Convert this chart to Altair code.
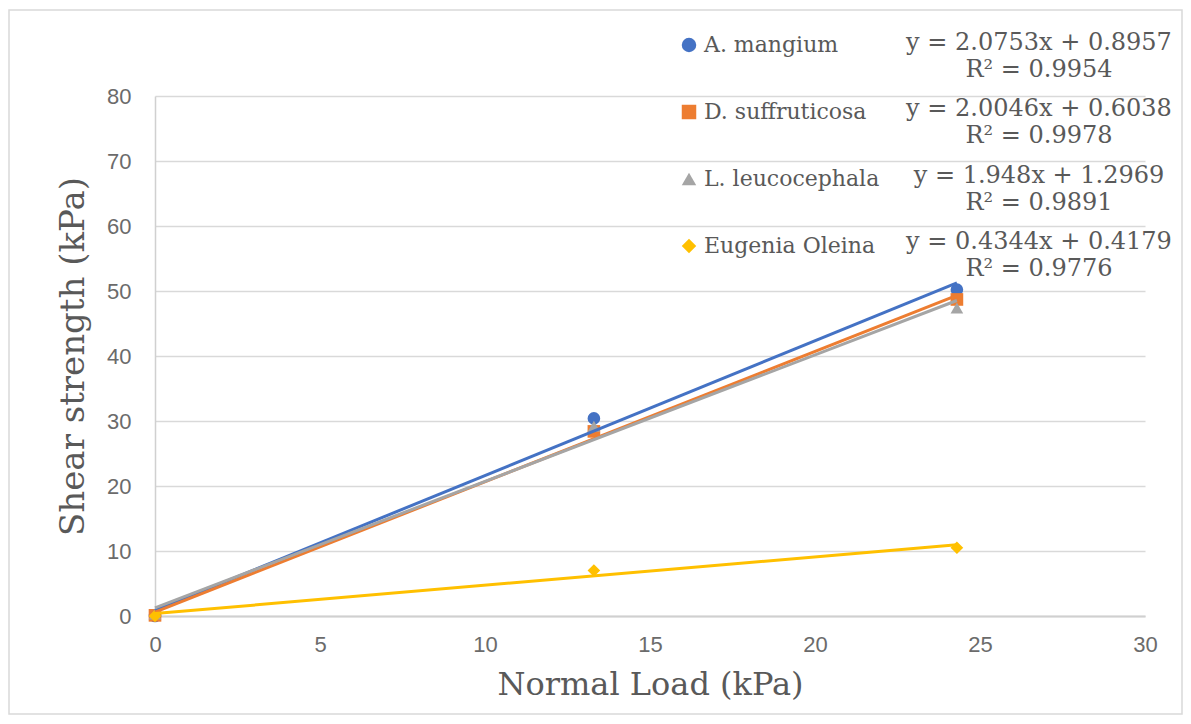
import altair as alt
import pandas as pd

series = ["A. mangium", "D. suffruticosa", "L. leucocephala", "Eugenia Oleina"]
normal_load = [0, 13.3, 24.3]
a_mangium = [0.0, 30.4, 50.2]
d_suffruticosa = [0.1, 28.4, 48.7]
l_leucocephala = [0.3, 29.2, 47.4]
eugenia_oleina = [0.0, 7.0, 10.5]
equations = ["y = 2.0753x + 0.8957", "y = 2.0046x + 0.6038",
             "y = 1.948x + 1.2969", "y = 0.4344x + 0.4179"]
r_squared = ["R² = 0.9954", "R² = 0.9978", "R² = 0.9891", "R² = 0.9776"]
colors = ["#4472C4", "#ED7D31", "#A5A5A5", "#FFC000"]
shapes = ["circle", "square", "triangle-up", "diamond"]

rows = []
for name, vals in zip(series, [a_mangium, d_suffruticosa, l_leucocephala, eugenia_oleina]):
    for x, y in zip(normal_load, vals):
        rows.append({"series": name, "x": x, "y": y})
df = pd.DataFrame(rows)

eq_df = pd.DataFrame({"series": series,
                      "label": [e + "\n" + r for e, r in zip(equations, r_squared)]})

GRAY = "#595959"
xscale = alt.Scale(domain=[0, 30], nice=False)
yscale = alt.Scale(domain=[0, 80], nice=False)

points = alt.Chart(df).mark_point(filled=True, size=160, opacity=1).encode(
    x=alt.X("x:Q", scale=xscale, title="Normal Load (kPa)",
            axis=alt.Axis(values=[0, 5, 10, 15, 20, 25, 30], grid=False,
                          domain=True, domainColor="#d0d0d0", domainWidth=2,
                          ticks=False, labelPadding=18, labelFlush=False,
                          labelFont="Liberation Sans", labelFontSize=22,
                          labelColor="#6b6b6b", titleFont="DejaVu Serif",
                          titleFontSize=32, titleColor=GRAY, titleFontWeight="normal",
                          titlePadding=14)),
    y=alt.Y("y:Q", scale=yscale, title="Shear strength (kPa)",
            axis=alt.Axis(values=list(range(0, 81, 10)), grid=True,
                          gridColor="#d9d9d9", gridWidth=1.5,
                          domain=True, domainColor="#d0d0d0", domainWidth=1.5,
                          ticks=False, labelPadding=24,
                          labelFont="Liberation Sans", labelFontSize=22,
                          labelColor="#6b6b6b", titleFont="DejaVu Serif",
                          titleFontSize=34, titleColor=GRAY, titleFontWeight="normal",
                          titlePadding=16)),
    color=alt.Color("series:N", scale=alt.Scale(domain=series, range=colors), title=None,
                    legend=alt.Legend(orient="none", legendX=523, legendY=-62,
                                      direction="vertical", rowPadding=45,
                                      labelFont="DejaVu Serif", labelFontSize=22,
                                      labelColor=GRAY, symbolSize=210,
                                      symbolStrokeWidth=0, labelOffset=4,
                                      labelLimit=0, padding=0)),
    shape=alt.Shape("series:N", scale=alt.Scale(domain=series, range=shapes), title=None),
)

lines = alt.Chart(df).transform_regression(
    "x", "y", groupby=["series"]
).mark_line(strokeWidth=3).encode(
    x=alt.X("x:Q", scale=xscale),
    y=alt.Y("y:Q", scale=yscale),
    stroke=alt.Stroke("series:N", scale=alt.Scale(domain=series, range=colors), legend=None),
)

plot = alt.layer(points, lines)

eq_text = alt.Chart(eq_df).mark_text(
    font="DejaVu Serif", fontSize=24, color=GRAY, align="center", baseline="top",
    lineBreak="\n", lineHeight=27,
).encode(
    x=alt.value(884),
    y=alt.Y("series:N", sort=series, axis=None,
            scale=alt.Scale(type="point", range=[-65, 134], padding=0)),
    text="label:N",
)

frame = alt.Chart(alt.Data(values=[{}])).mark_rect(
    fill=None, stroke="#d9d9d9", strokeWidth=1.5
).encode(
    x=alt.value(-146), x2=alt.value(1027), y=alt.value(-86), y2=alt.value(618),
)

chart = alt.layer(frame, plot, eq_text).resolve_scale(y="independent").properties(
    width=990, height=520,
    autosize=alt.AutoSizeParams(type="none"),
    padding={"left": 147, "top": 88, "right": 38, "bottom": 100},
    background="white",
).configure_view(stroke=None)

chart.save("out.html", embed_options={"renderer": "svg", "actions": False})
